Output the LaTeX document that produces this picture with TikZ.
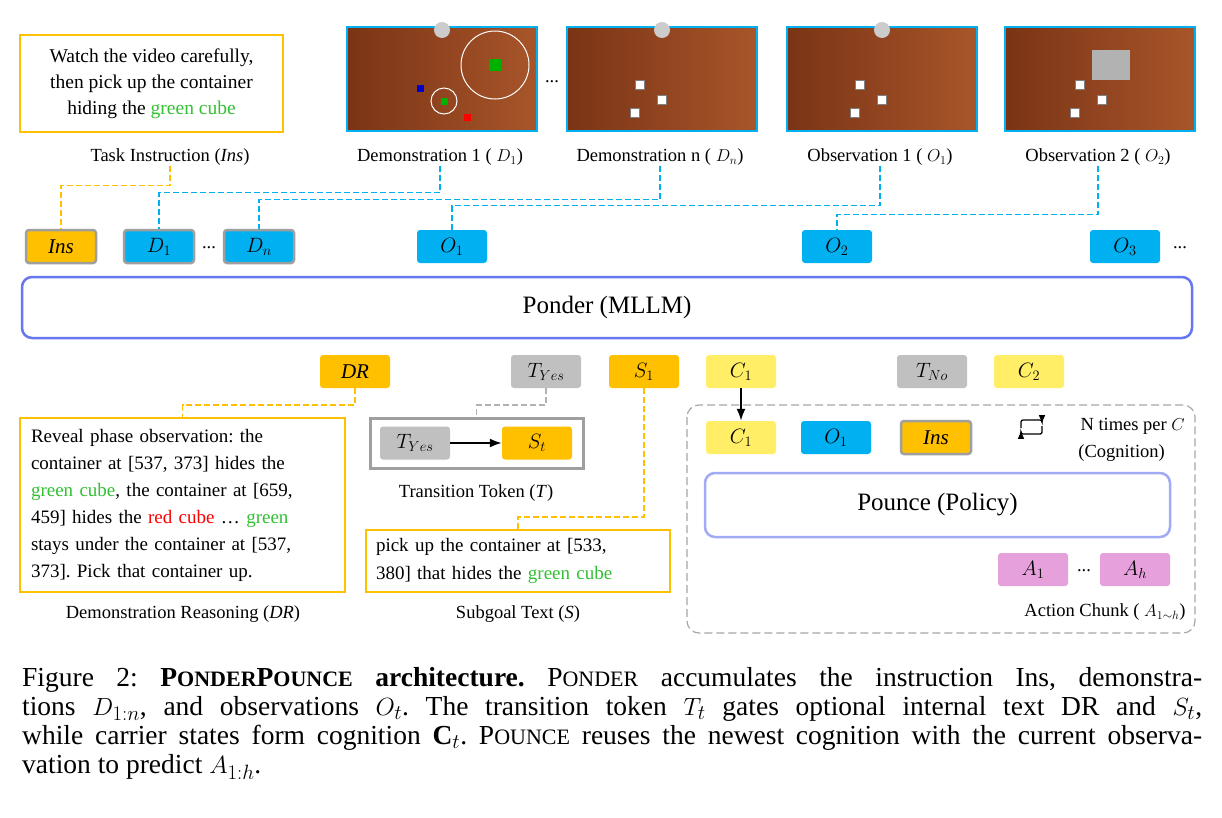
\documentclass[tikz,border=0pt]{standalone}
\usepackage{fontspec}
\setmainfont{Liberation Serif}
\usetikzlibrary{positioning}
\usetikzlibrary{arrows.meta}
\frenchspacing

\definecolor{cOrange}{HTML}{FFC000}
\definecolor{cBlue}{HTML}{00B0F0}
\definecolor{cGray}{HTML}{C0C0C0}
\definecolor{cYellow}{HTML}{FFEE66}
\definecolor{cPink}{HTML}{E6A0DC}
\definecolor{cFrame}{HTML}{6677F0}
\definecolor{cLight}{HTML}{A0AAF5}
\definecolor{cGreen}{HTML}{33C033}
\definecolor{cWood}{HTML}{A8552A}
\definecolor{cWoodD}{HTML}{7A3415}

\tikzset{
  tok/.style={rounded corners=3pt, minimum width=70pt, minimum height=33pt,
    inner sep=0pt, font=\fontsize{21}{22}\selectfont},
  rim/.style={draw=gray!75, line width=2.5pt},
  lbl/.style={font=\fontsize{18.5}{20}\selectfont, inner sep=0pt},
  txtbox/.style={draw=cOrange, line width=2.5pt, inner xsep=10pt, inner ysep=0pt},
  dl/.style={dashed, line width=1.5pt, dash pattern=on 6pt off 3pt},
  scene/.style={draw=cBlue, line width=2pt, minimum width=190pt,
    minimum height=104pt, inner sep=0pt, left color=cWoodD, right color=cWood},
  cube/.style={fill=white, draw=gray, minimum size=9pt, inner sep=0pt},
}
\newcommand{\smc}[1]{{\fontsize{22}{29}\selectfont #1}}

\begin{document}
\begin{tikzpicture}[x=1pt, y=-1pt, >=Latex]
\useasboundingbox (0,0) rectangle (1222,817);
\fill[white] (0,0) rectangle (1222,817);

% task instruction
\node[txtbox, minimum width=263pt, minimum height=97pt, align=center,
  font=\fontsize{19.5}{26}\selectfont] (insbox) at (151.5,83.5)
  {Watch the video carefully,\\ then pick up the container\\ hiding the \textcolor{cGreen}{green cube}};
\node[lbl] (insl) at (170,157) {Task Instruction (\textit{Ins})};

% video frames
\node[scene] (img1) at (442,79) {};
\node[scene] (img2) at (662,79) {};
\node[scene] (img3) at (882,79) {};
\node[scene] (img4) at (1100,79) {};
\node[lbl] (dots0) at (552,82) {...};
\fill[gray!40] (442,30) circle (8pt);
\fill[gray!40] (662,30) circle (8pt);
\fill[gray!40] (882,30) circle (8pt);
\fill[gray!60] (1092,50) rectangle (1130,80);
\draw[white, line width=1pt] (495,65) circle (34pt);
\draw[white, line width=1pt] (444,101) circle (13pt);
\node[cube, fill=green!70!black, draw=none, minimum size=12pt] at (495,65) {};
\node[cube, fill=green!70!black, draw=none, minimum size=7pt] at (444,101) {};
\node[cube, fill=blue!80!black, draw=none, minimum size=7pt] at (420,88) {};
\node[cube, fill=red, draw=none, minimum size=7pt] at (467,117) {};
\foreach \dx/\dy in {0/0,22/15,-5/28} {
  \node[cube] at (640+\dx,85+\dy) {};
  \node[cube] at (860+\dx,85+\dy) {};
  \node[cube] at (1080+\dx,85+\dy) {};
}
\node[lbl] (d1l) at (440,157) {Demonstration 1 ( $D_1$)};
\node[lbl] (dnl) at (660,157) {Demonstration n ( $D_n$)};
\node[lbl] (o1l) at (880,157) {Observation 1 ( $O_1$)};
\node[lbl] (o2l) at (1098,157) {Observation 2 ( $O_2$)};

% input tokens
\node[tok, fill=cOrange, rim] (ins) at (61,246.5) {\textit{Ins}};
\node[tok, fill=cBlue, rim] (d1) at (159,246.5) {$D_1$};
\node[lbl] (dots1) at (209,248) {...};
\node[tok, fill=cBlue, rim] (dn) at (259,246.5) {$D_n$};
\node[tok, fill=cBlue] (o1) at (452,246.5) {$O_1$};
\node[tok, fill=cBlue] (o2) at (837,246.5) {$O_2$};
\node[tok, fill=cBlue] (o3) at (1125,246.5) {$O_3$};
\node[lbl] (dots2) at (1180,248) {...};

\draw[dl, cOrange] (insl.south) -- ++(0,20) -| (ins.north);
\draw[dl, cBlue] (d1l.south) -- ++(0,27) -| (d1.north);
\draw[dl, cBlue] (dnl.south) -- ++(0,34) -| (dn.north);
\draw[dl, cBlue] (o1l.south) -- ++(0,40) -| (o1.north);
\draw[dl, cBlue] (o2l.south) -- ++(0,49) -| (o2.north);

% ponder
\node[draw=cFrame, line width=2.5pt, rounded corners=10pt, minimum width=1170pt,
  minimum height=61pt, font=\fontsize{25}{28}\selectfont] (ponder) at (607,307.5) {Ponder (MLLM)};

% outputs
\node[tok, fill=cOrange] (dr) at (355,371.5) {\textit{DR}};
\node[tok, fill=cGray] (tyes) at (546,371.5) {$T_{Yes}$};
\node[tok, fill=cOrange] (s1) at (644,371.5) {$S_1$};
\node[tok, fill=cYellow] (c1) at (741,371.5) {$C_1$};
\node[tok, fill=cGray] (tno) at (932,371.5) {$T_{No}$};
\node[tok, fill=cYellow] (c2) at (1029,371.5) {$C_2$};

% demonstration reasoning
\node[txtbox, minimum width=325pt, minimum height=174pt, align=left,
  text width=303pt, font=\fontsize{19}{27}\selectfont] (drbox) at (182.5,505)
  {Reveal phase observation: the\\ container at [537, 373] hides the\\
  \textcolor{cGreen}{green cube}, the container at [659,\\ 459] hides the
  \textcolor{red}{red cube} \dots\ \textcolor{cGreen}{green}\\ stays under the container at [537,\\ 373]. Pick that container up.};
\node[lbl] (drl) at (183,614) {Demonstration Reasoning (\textit{DR})};
\draw[dl, cOrange] (dr.south) -- ++(0,17) -| (drbox.north);

% transition token
\node[draw=gray!75, line width=3pt, minimum width=213pt, minimum height=50pt] (tbox) at (476.5,443) {};
\node[tok, fill=cGray] (tin) at (415,443) {$T_{Yes}$};
\node[tok, fill=cOrange] (st) at (537,443) {$S_t$};
\draw[->, line width=2pt] (tin) -- (st);
\node[lbl] (tl) at (476,493) {Transition Token (\textit{T})};
\draw[dl, gray!60] (tyes.south) -- ++(0,17) -| (tbox.north);

% subgoal
\node[txtbox, minimum width=300pt, minimum height=62pt, align=left,
  text width=284pt, font=\fontsize{19}{28}\selectfont] (sbox) at (518,561)
  {pick up the container at [533,\\ 380] that hides the \textcolor{cGreen}{green cube}};
\node[lbl] (sl) at (518,614) {Subgoal Text (\textit{S})};
\draw[dl, cOrange] (s1.south) -- ++(0,129) -| (sbox.north);

% pounce
\draw[dashed, gray!70, line width=1.2pt, dash pattern=on 8pt off 4pt, rounded corners=12pt]
  (687,405) rectangle (1195,633);
\node[tok, fill=cYellow] (c1b) at (741,437.5) {$C_1$};
\node[tok, fill=cBlue] (o1b) at (836,437.5) {$O_1$};
\node[tok, fill=cOrange, rim] (insb) at (936,437.5) {\textit{Ins}};
\draw[->, line width=2pt] (c1) -- (c1b);
\node[lbl, anchor=east] (ntimes) at (1185,426) {N times per $C$};
\node[lbl, anchor=east] (cogn) at (1165,453) {(Cognition)};
\draw[->, line width=1.3pt, rounded corners=2pt] (1021,428) -- (1021,420) -- (1042,420) -- (1042,424);
\draw[->, line width=1.3pt, rounded corners=2pt] (1042,426) -- (1042,434) -- (1021,434) -- (1021,430);
\node[draw=cLight, line width=2.5pt, rounded corners=10pt, minimum width=465pt,
  minimum height=64pt, font=\fontsize{25}{28}\selectfont] (pounce) at (937.5,505) {Pounce (Policy)};
\node[tok, fill=cPink] (a1) at (1033,569.5) {$A_1$};
\node[lbl] (dots3) at (1084,571) {...};
\node[tok, fill=cPink] (ah) at (1135,569.5) {$A_h$};
\node[lbl] (al) at (1105,612) {Action Chunk ( $A_{1\sim h}$)};

% caption
\node[anchor=north west, inner sep=0pt, text width=1180pt, align=justify,
  font=\fontsize{27.5}{29}\selectfont] (cap) at (22,667)
  {Figure 2: \textbf{P\smc{ONDER}P\smc{OUNCE} architecture.}
  P\smc{ONDER} accumulates the instruction Ins, demonstra-\linebreak tions $D_{1:n}$, and observations $O_t$.
  The transition token $T_t$ gates optional internal text DR and $S_t$,\linebreak while carrier states form cognition $\mathbf{C}_t$.
  P\smc{OUNCE} reuses the newest cognition with the current observa-\linebreak vation to predict $A_{1:h}$.};
\end{tikzpicture}
\end{document}
